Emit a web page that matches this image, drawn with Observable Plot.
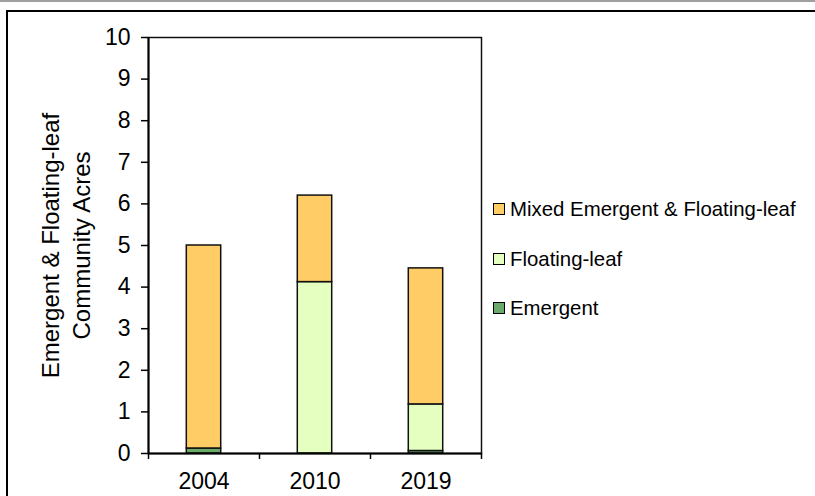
<!DOCTYPE html>
<html>
<head>
<meta charset="utf-8">
<script src="https://cdn.jsdelivr.net/npm/d3@7"></script>
<script src="https://cdn.jsdelivr.net/npm/@observablehq/plot@0.6"></script>
<style>
  html, body { margin: 0; padding: 0; background: #fff; overflow: hidden; }
  body { width: 815px; height: 496px; position: relative; font-family: "Liberation Sans", Arial, sans-serif; }
  #topline { position: absolute; left: 0; top: 0; width: 815px; height: 2px; background: #a0a0a0; }
  #border { position: absolute; left: 6px; top: 10px; width: 900px; height: 600px; border: 2px solid #000; }
  #chart { position: absolute; left: 0; top: 0; }
  #legend { position: absolute; left: 493px; top: 0; font-size: 20.4px; color: #000; }
  .item { position: absolute; left: 0; white-space: nowrap; display: flex; align-items: center; }
  .sw { width: 10px; height: 10px; border: 1px solid #000; margin-right: 5px; }
</style>
</head>
<body>
<div id="topline"></div>
<div id="border"></div>
<div id="chart"></div>
<div id="legend"></div>
<script>
const years = ["2004", "2010", "2019"];
const seriesNames = ["Emergent", "Floating-leaf", "Mixed Emergent & Floating-leaf"];
const emergent = [0.12, 0, 0.06];
const floatingLeaf = [0, 4.12, 1.12];
const mixed = [4.88, 2.08, 3.27];
const colors = ["#6aaa6a", "#e5ffc0", "#ffcc66"];
const yTicks = [0, 1, 2, 3, 4, 5, 6, 7, 8, 9, 10];
const yTitle = "Emergent & Floating-leaf\nCommunity Acres";

const valuesBySeries = [emergent, floatingLeaf, mixed];
const rows = [];
years.forEach((yr, i) => {
  seriesNames.forEach((s, j) => {
    if (valuesBySeries[j][i] > 0) rows.push({year: yr, idx: i, series: s, value: valuesBySeries[j][i]});
  });
});

const chart = Plot.plot({
  width: 815,
  height: 496,
  marginLeft: 148,
  marginRight: 334,
  marginTop: 37,
  marginBottom: 43,
  style: {fontFamily: "'Liberation Sans', Arial, sans-serif", fontSize: "23px", color: "#000", background: "transparent"},
  x: {type: "linear", domain: [0, 3], axis: null},
  y: {domain: [0, 10], axis: null},
  color: {domain: seriesNames, range: colors},
  marks: [
    Plot.frame({stroke: "#111", strokeWidth: 1.5}),
    Plot.rectY(rows, {
      x1: d => d.idx + 0.345,
      x2: d => d.idx + 0.655,
      y: "value",
      fill: "series",
      stroke: "#111",
      strokeWidth: 1.5
    }),
    Plot.axisY({ticks: yTicks, tickSize: 7, tickPadding: 11, fontSize: 23, strokeWidth: 1.5, label: null}),
    Plot.axisX({ticks: [0, 1, 2, 3], tickSize: 6, tickFormat: () => "", strokeWidth: 1.5, label: null}),
    Plot.axisX({ticks: years.map((_, i) => i + 0.5), tickSize: 0, tickPadding: 19, fontSize: 23,
      tickFormat: d => years[Math.floor(d)], label: null}),
    Plot.ruleY([0], {stroke: "#000", strokeWidth: 2}),
    Plot.ruleX([0], {stroke: "#000", strokeWidth: 2}),
    Plot.text([yTitle], {frameAnchor: "left", textAnchor: "middle", lineAnchor: "middle", rotate: -90, dx: -84, fontSize: 24, lineHeight: 1.3, fill: "#000"})
  ]
});
document.getElementById("chart").appendChild(chart);

const legend = document.getElementById("legend");
const legendOrder = [2, 1, 0];
const legendTops = [209, 259, 308];
legendOrder.forEach((j, k) => {
  const it = document.createElement("div");
  it.className = "item";
  it.style.top = (legendTops[k] - 12) + "px";
  it.style.height = "24px";
  const sw = document.createElement("div");
  sw.className = "sw";
  sw.style.background = colors[j];
  const tx = document.createElement("span");
  tx.textContent = seriesNames[j];
  it.appendChild(sw);
  it.appendChild(tx);
  legend.appendChild(it);
});
</script>
</body>
</html>
